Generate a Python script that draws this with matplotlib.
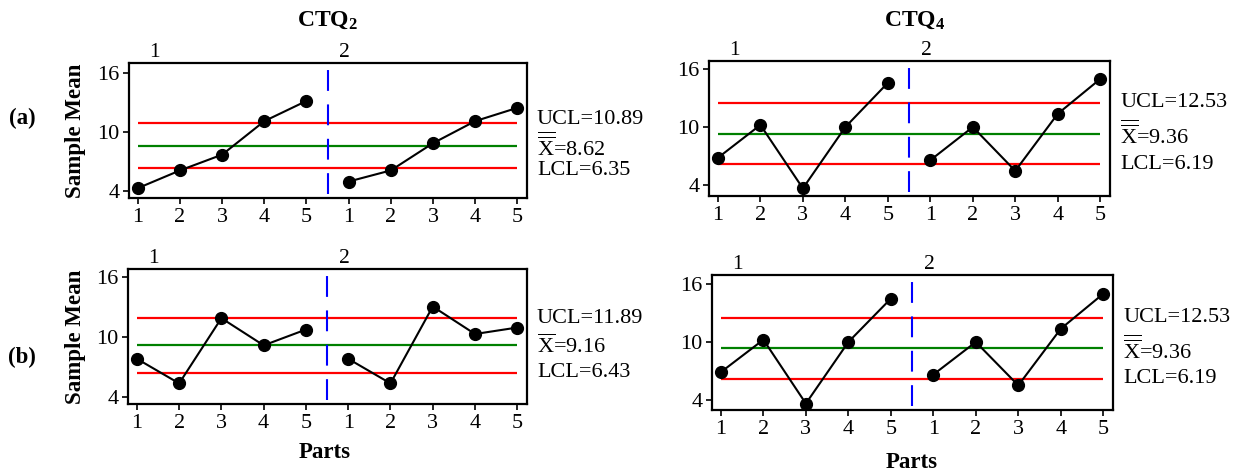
import matplotlib
matplotlib.use("Agg")
import matplotlib.pyplot as plt
import matplotlib.transforms as mtransforms

plt.rcParams["font.family"] = ["Liberation Serif", "DejaVu Serif"]
plt.rcParams["mathtext.fontset"] = "custom"
plt.rcParams["mathtext.rm"] = "Liberation Serif"
plt.rcParams["mathtext.bf"] = "Liberation Serif:bold"
plt.rcParams["mathtext.it"] = "Liberation Serif:italic"

# data
parts = [1, 2, 3, 4, 5]
groups = ["1", "2"]
y_ticks = [4, 10, 16]

ctq2_a_g1 = [4.3, 6.1, 7.7, 11.1, 13.15]
ctq2_a_g2 = [4.97, 6.1, 8.86, 11.1, 12.45]
ctq2_a_limits = [10.89, 8.62, 6.35]   # UCL, center, LCL

ctq4_a_g1 = [6.85, 10.25, 3.69, 10.03, 14.6]
ctq4_a_g2 = [6.6, 10.03, 5.5, 11.4, 15.0]
ctq4_a_limits = [12.53, 9.36, 6.19]

ctq2_b_g1 = [7.81, 5.34, 11.89, 9.16, 10.75]
ctq2_b_g2 = [7.81, 5.34, 13.06, 10.3, 10.95]
ctq2_b_limits = [11.89, 9.16, 6.43]

ctq4_b_g1 = [6.88, 10.24, 3.62, 10.0, 14.5]
ctq4_b_g2 = [6.62, 10.0, 5.5, 11.37, 15.0]
ctq4_b_limits = [12.53, 9.36, 6.19]


def draw_panel(ax, g1, g2, limits, ylim, bar="double"):
    n = len(parts)
    xs1 = list(range(n))
    xs2 = list(range(n, 2 * n))
    ucl, cl, lcl = limits

    ax.hlines([ucl, lcl], 0, 2 * n - 1, colors="#ff0000", lw=1.6, zorder=1)
    ax.hlines([cl], 0, 2 * n - 1, colors="#008000", lw=1.6, zorder=1)
    ax.axvline(n - 0.5, ymin=0.03, ymax=0.97, color="#0000ff", lw=1.5,
               dashes=(10, 6.5), zorder=1)

    for xs, ys in [(xs1, g1), (xs2, g2)]:
        ax.plot(xs, ys, color="k", lw=1.5, marker="o", ms=8.5, zorder=3)

    ax.set_xlim(-0.21, 2 * n - 1 + 0.23)
    ax.set_ylim(*ylim)
    ax.set_yticks(y_ticks)
    ax.set_xticks(xs1 + xs2)
    ax.set_xticklabels([str(p) for p in parts] * 2)
    ax.tick_params(labelsize=16, length=4, width=1.2, pad=3)
    for s in ax.spines.values():
        s.set_linewidth(1.6)

    # group labels above frame
    tr = mtransforms.blended_transform_factory(ax.transData, ax.transAxes)
    ax.text(0.4, 1.01, groups[0], transform=tr, ha="center", va="bottom", fontsize=15.5)
    ax.text(n - 0.1, 1.01, groups[1], transform=tr, ha="center", va="bottom", fontsize=15.5)

    # control limit labels
    tr2 = mtransforms.blended_transform_factory(ax.transAxes, ax.transData)
    ucl_y = max(ucl, cl + 2.65)
    lcl_y = min(lcl, cl - 2.5)
    if bar == "double":
        xbar = r"$\overline{\overline{\mathrm{X}}}$"
    else:
        xbar = r"$\overline{\mathrm{X}}$"
    ax.text(1.025, ucl_y, "UCL=%.2f" % ucl, transform=tr2, va="center", fontsize=16)
    ax.text(1.025, cl - 0.1, xbar + "=%.2f" % cl, transform=tr2, va="center", fontsize=16)
    ax.text(1.025, lcl_y, "LCL=%.2f" % lcl, transform=tr2, va="center", fontsize=16)


W, H = 1243, 472
fig = plt.figure(figsize=(W / 100, H / 100), dpi=100)

ax_tl = fig.add_axes([129 / W, 1 - 198 / H, 398 / W, 135 / H])
ax_tr = fig.add_axes([709 / W, 1 - 196 / H, 401 / W, 135 / H])
ax_bl = fig.add_axes([128 / W, 1 - 404 / H, 399 / W, 135 / H])
ax_br = fig.add_axes([712 / W, 1 - 410 / H, 401 / W, 135 / H])

draw_panel(ax_tl, ctq2_a_g1, ctq2_a_g2, ctq2_a_limits, (3.3, 17.0))
draw_panel(ax_tr, ctq4_a_g1, ctq4_a_g2, ctq4_a_limits, (2.9, 16.86))
draw_panel(ax_bl, ctq2_b_g1, ctq2_b_g2, ctq2_b_limits, (3.27, 16.83), bar="single")
draw_panel(ax_br, ctq4_b_g1, ctq4_b_g2, ctq4_b_limits, (2.95, 16.95))

fig.text(328 / W, 1 - 20 / H, r"$\mathbf{CTQ_2}$", ha="center", va="center", fontsize=17)
fig.text(915 / W, 1 - 20 / H, r"$\mathbf{CTQ_4}$", ha="center", va="center", fontsize=17)

for ax in [ax_tl, ax_bl]:
    pos = ax.get_position()
    fig.text(75 / W, (pos.y0 + pos.y1) / 2, "Sample Mean", rotation=90, ha="center",
             va="center", fontsize=16.5, fontweight="bold")

fig.text(22 / W, 1 - 118 / H, "(a)", ha="center", va="center", fontsize=16.5, fontweight="bold")
fig.text(22 / W, 1 - 357 / H, "(b)", ha="center", va="center", fontsize=16.5, fontweight="bold")

fig.text(325 / W, 1 - 452 / H, "Parts", ha="center", va="center", fontsize=16.5, fontweight="bold")
fig.text(912 / W, 1 - 462 / H, "Parts", ha="center", va="center", fontsize=16.5, fontweight="bold")

fig.savefig("out.png", dpi=100)
